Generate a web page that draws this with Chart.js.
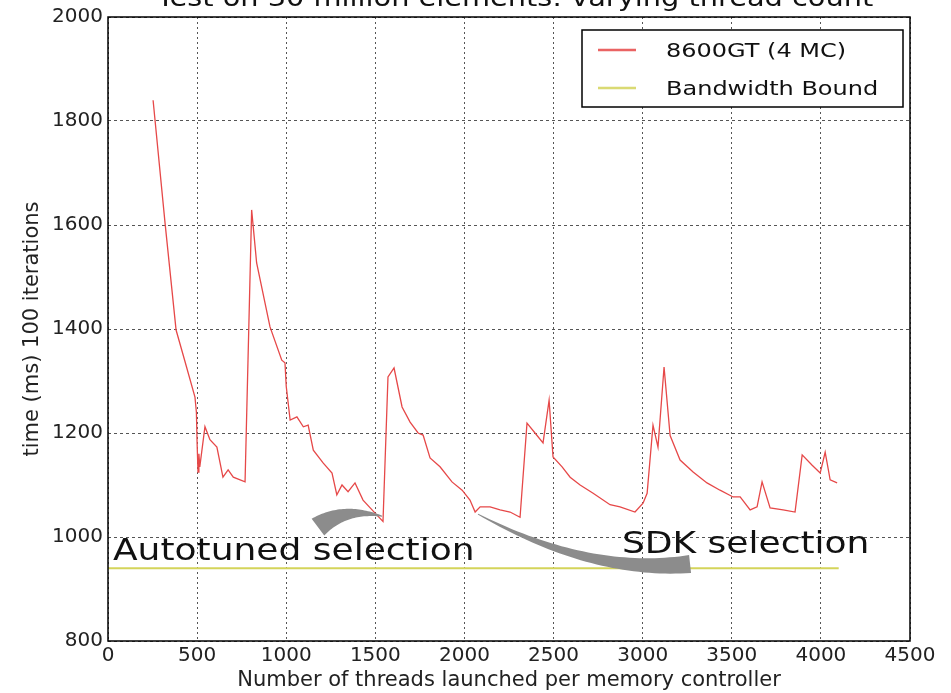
<!DOCTYPE html>
<html>
<head>
<meta charset="utf-8">
<script src="https://cdn.jsdelivr.net/npm/chart.js@4.4.0/dist/chart.umd.min.js"></script>
<style>
    html, body { margin: 0; padding: 0; background: #fff; }
    #wrap { width: 951px; height: 693px; }
</style>
</head>
<body>
<div id="wrap"><canvas id="threadChart"></canvas></div>
<script>
// Thread count sweep
const threads = [253, 320, 382, 430, 488, 496, 500, 505, 510, 515, 544, 572, 611, 645, 674, 703, 769,
    806, 834, 909, 975, 993, 1000, 1022, 1060, 1096, 1123, 1152, 1208, 1257, 1284, 1313, 1347, 1386, 1431, 1509, 1543,
    1571, 1605, 1650, 1695, 1740, 1768, 1807, 1863, 1930, 1987, 2031, 2060, 2088, 2144, 2200, 2256, 2312,
    2351, 2396, 2441, 2475, 2497, 2548, 2593, 2649, 2722, 2817, 2873, 2957, 3002, 3025,
    3058, 3086, 3120, 3154, 3210, 3283, 3361, 3434, 3507, 3547, 3603, 3642, 3670, 3715, 3788, 3855,
    3895, 3951, 3996, 4024, 4052, 4091];
const timeMs = [1840, 1604, 1398, 1340, 1269, 1240, 1180, 1125, 1160, 1135, 1212, 1187, 1173, 1115, 1129, 1115, 1106,
    1629, 1527, 1404, 1340, 1335, 1290, 1225, 1231, 1212, 1215, 1167, 1142, 1123, 1081, 1100, 1087, 1104, 1071, 1042, 1030,
    1308, 1325, 1250, 1221, 1200, 1196, 1152, 1135, 1106, 1090, 1071, 1048, 1058, 1058, 1052, 1048, 1038,
    1219, 1200, 1181, 1263, 1154, 1135, 1115, 1100, 1084, 1062, 1058, 1048, 1065, 1084,
    1215, 1173, 1327, 1195, 1148, 1125, 1104, 1090, 1077, 1077, 1052, 1058, 1106, 1056, 1052, 1048,
    1158, 1138, 1123, 1163, 1110, 1104];

const boundThreads = [0, 4100];
const boundTime = [940, 940];

const seriesLabels = ['8600GT (4 MC)', 'Bandwidth Bound'];
const seriesColors = ['#e64848', '#d4d45a'];
const chartTitle = 'Test on 30 million elements: varying thread count';

// annotations, in data units
const noteTexts = ['Autotuned selection', 'SDK selection'];
const noteX = [28, 2884];
const noteY = [956, 969];
// curved wedge arrows: start, control, end (data units)
const arrowStart = [[1538, 1040], [2076, 1044]];
const arrowCtrl = [[1330, 1058], [2705, 927]];
const arrowEnd = [[1178, 1019], [3266, 948]];

const FONT = '"DejaVu Sans", sans-serif';
const STRETCH = 1.2;

function stretchedText(ctx, text, x, y, size, align) {
    ctx.save();
    ctx.font = size + 'px ' + FONT;
    ctx.textBaseline = 'alphabetic';
    const w = ctx.measureText(text).width * STRETCH;
    let left = x;
    if (align === 'center') left = x - w / 2;
    ctx.translate(left, y);
    ctx.scale(STRETCH, 1);
    ctx.textAlign = 'left';
    ctx.fillText(text, 0, 0);
    ctx.restore();
}

function drawWedge(ctx, p0, p1, p2, width) {
    const n = 40;
    const left = [], right = [];
    for (let i = 0; i <= n; i++) {
        const t = i / n;
        const x = (1 - t) * (1 - t) * p0[0] + 2 * (1 - t) * t * p1[0] + t * t * p2[0];
        const y = (1 - t) * (1 - t) * p0[1] + 2 * (1 - t) * t * p1[1] + t * t * p2[1];
        const dx = 2 * (1 - t) * (p1[0] - p0[0]) + 2 * t * (p2[0] - p1[0]);
        const dy = 2 * (1 - t) * (p1[1] - p0[1]) + 2 * t * (p2[1] - p1[1]);
        const len = Math.hypot(dx, dy) || 1;
        const hw = width * t / 2 + 0.5;
        left.push([x - dy / len * hw, y + dx / len * hw]);
        right.push([x + dy / len * hw, y - dx / len * hw]);
    }
    ctx.beginPath();
    ctx.moveTo(left[0][0], left[0][1]);
    left.forEach(p => ctx.lineTo(p[0], p[1]));
    right.reverse().forEach(p => ctx.lineTo(p[0], p[1]));
    ctx.closePath();
    ctx.fill();
}

const decorPlugin = {
    id: 'decor',
    afterDraw(chart) {
        const ctx = chart.ctx;
        const xs = chart.scales.x, ys = chart.scales.y;
        const area = chart.chartArea;
        const px = v => [xs.getPixelForValue(v[0]), ys.getPixelForValue(v[1])];

        // arrows
        ctx.save();
        ctx.fillStyle = '#8c8c8c';
        const widths = [20, 17];
        for (let i = 0; i < arrowStart.length; i++) {
            drawWedge(ctx, px(arrowStart[i]), px(arrowCtrl[i]), px(arrowEnd[i]), widths[i]);
        }
        ctx.restore();

        // annotation text
        ctx.save();
        ctx.fillStyle = '#111';
        noteTexts.forEach((t, i) => {
            stretchedText(ctx, t, xs.getPixelForValue(noteX[i]), ys.getPixelForValue(noteY[i]), 30, 'left');
        });
        ctx.restore();

        // frame
        ctx.save();
        ctx.strokeStyle = '#000';
        ctx.lineWidth = 1.5;
        ctx.strokeRect(area.left, area.top, area.right - area.left, area.bottom - area.top);
        ctx.restore();

        // legend box
        ctx.save();
        const bx = area.right - 328, by = area.top + 13, bw = 321, bh = 77;
        ctx.fillStyle = '#fff';
        ctx.fillRect(bx, by, bw, bh);
        ctx.strokeStyle = '#000';
        ctx.lineWidth = 1.5;
        ctx.strokeRect(bx, by, bw, bh);
        seriesLabels.forEach((label, i) => {
            const yy = by + 20 + i * 38;
            ctx.strokeStyle = seriesColors[i];
            ctx.globalAlpha = 0.85;
            ctx.lineWidth = 2.5;
            ctx.beginPath();
            ctx.moveTo(bx + 16, yy);
            ctx.lineTo(bx + 54, yy);
            ctx.stroke();
            ctx.globalAlpha = 1;
            ctx.fillStyle = '#111';
            stretchedText(ctx, label, bx + 84, yy + 7, 20, 'left');
        });
        ctx.restore();

        // title, mostly cut off at the top
        ctx.save();
        ctx.fillStyle = '#111';
        stretchedText(ctx, chartTitle, (area.left + area.right) / 2 + 6, 6, 24, 'center');
        ctx.restore();
    }
};

const ctx = document.getElementById('threadChart').getContext('2d');
const chart = new Chart(ctx, {
    type: 'line',
    data: {
        datasets: [{
            label: seriesLabels[0],
            data: threads.map((t, i) => ({ x: t, y: timeMs[i] })),
            borderColor: seriesColors[0],
            borderWidth: 1.3,
            pointRadius: 0,
            tension: 0
        }, {
            label: seriesLabels[1],
            data: boundThreads.map((t, i) => ({ x: t, y: boundTime[i] })),
            borderColor: seriesColors[1],
            borderWidth: 2,
            pointRadius: 0
        }]
    },
    options: {
        responsive: true,
        maintainAspectRatio: false,
        animation: false,
        layout: {
            padding: { top: 17, right: 41, left: 0, bottom: 0 }
        },
        plugins: {
            legend: { display: false },
            tooltip: { enabled: false }
        },
        scales: {
            x: {
                type: 'linear',
                min: 0,
                max: 4500,
                afterFit: s => { s.height = 52; },
                ticks: {
                    stepSize: 500,
                    color: '#222',
                    padding: 3,
                    maxRotation: 0,
                    callback: value => String(value),
                    font: { family: FONT, size: 20 }
                },
                grid: {
                    color: '#555',
                    lineWidth: 1,
                    drawTicks: false
                },
                border: { display: false, dash: [2, 3] },
                title: {
                    display: true,
                    text: 'Number of threads launched per memory controller',
                    color: '#222',
                    padding: { top: 0, bottom: 0 },
                    font: { family: FONT, size: 21 }
                }
            },
            y: {
                min: 800,
                max: 2000,
                afterFit: s => { s.width = 108; },
                ticks: {
                    stepSize: 200,
                    color: '#222',
                    padding: 5,
                    callback: value => String(value),
                    font: { family: FONT, size: 20 }
                },
                grid: {
                    color: '#555',
                    lineWidth: 1,
                    drawTicks: false
                },
                border: { display: false, dash: [3, 3] },
                title: {
                    display: true,
                    text: 'time (ms) 100 iterations',
                    color: '#222',
                    padding: { top: 20, bottom: 0 },
                    font: { family: FONT, size: 21 }
                }
            }
        }
    },
    plugins: [decorPlugin]
});
</script>
</body>
</html>
